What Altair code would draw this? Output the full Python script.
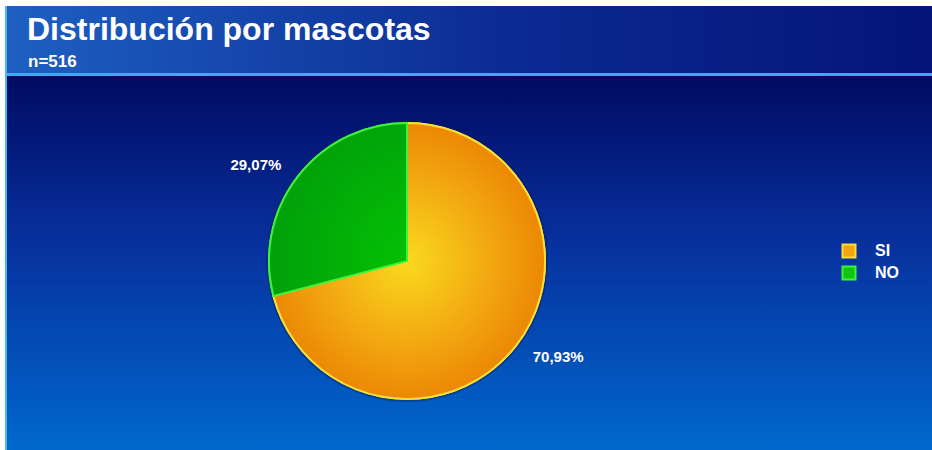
import altair as alt
import pandas as pd

# ---- data ----
categories = ["SI", "NO"]
percentages = [70.93, 29.07]
label_texts = ["70,93%", "29,07%"]
title_text = "Distribución por mascotas"
subtitle_text = "n=516"

df = pd.DataFrame({
    "cat": categories,
    "pct": percentages,
    "label": label_texts,
    "order": list(range(len(categories))),
})
one = pd.DataFrame({"k": [0]})

W, H = 932, 450
CX, CY, R = 407, 261, 138
FONT = "Liberation Sans"

header_grad = {
    "gradient": "linear", "x1": 0, "y1": 0, "x2": 1, "y2": 0,
    "stops": [
        {"offset": 0, "color": "#1e60c2"},
        {"offset": 0.55, "color": "#0b2a92"},
        {"offset": 1, "color": "#041478"},
    ],
}
body_grad = {
    "gradient": "linear", "x1": 0, "y1": 0, "x2": 0, "y2": 1,
    "stops": [
        {"offset": 0, "color": "#010a62"},
        {"offset": 0.45, "color": "#07319e"},
        {"offset": 1, "color": "#0068cc"},
    ],
}
orange_grad = {
    "gradient": "radial", "x1": 0.49, "y1": 0.5, "r1": 0,
    "x2": 0.49, "y2": 0.5, "r2": 0.55,
    "stops": [
        {"offset": 0, "color": "#f9da1e"},
        {"offset": 0.5, "color": "#f3ac12"},
        {"offset": 1, "color": "#ea8002"},
    ],
}
green_grad = {
    "gradient": "radial", "x1": 1, "y1": 0.79, "r1": 0,
    "x2": 1, "y2": 0.79, "r2": 1.0,
    "stops": [
        {"offset": 0, "color": "#04c404"},
        {"offset": 1, "color": "#009c0a"},
    ],
}

# ---- background decoration ----
bg_header = alt.Chart(one).mark_rect(fill=header_grad).encode(
    x=alt.value(6), x2=alt.value(W), y=alt.value(6), y2=alt.value(73))
bg_line = alt.Chart(one).mark_rect(fill="#3ea8f4").encode(
    x=alt.value(6), x2=alt.value(W), y=alt.value(73), y2=alt.value(76))
bg_body = alt.Chart(one).mark_rect(fill=body_grad).encode(
    x=alt.value(6), x2=alt.value(W), y=alt.value(76), y2=alt.value(H))
bg_left = alt.Chart(one).mark_rect(fill="#48b8f4").encode(
    x=alt.value(5), x2=alt.value(7), y=alt.value(6), y2=alt.value(H))

title = alt.Chart(one).mark_text(
    text=title_text, font=FONT, fontSize=32, fontWeight="bold", color="white",
    align="left", baseline="alphabetic").encode(x=alt.value(27), y=alt.value(40))
subtitle = alt.Chart(one).mark_text(
    text=subtitle_text, font=FONT, fontSize=17, fontWeight="bold", color="white",
    align="left", baseline="alphabetic").encode(x=alt.value(28), y=alt.value(67))

# ---- pie ----
base = alt.Chart(df).encode(
    theta=alt.Theta("pct:Q", stack=True),
    order=alt.Order("order:Q"),
    x=alt.value(CX), y=alt.value(CY),
)

legend_cfg = dict(
    title=None, orient="none", legendX=841, legendY=243,
    symbolType="square", symbolSize=169, symbolStrokeWidth=2,
    labelFont=FONT, labelFontSize=16, labelFontWeight="bold", labelColor="white",
    labelOffset=18, rowPadding=0, padding=0,
)

pie_legend = base.mark_arc(radius=R, strokeWidth=2).encode(
    color=alt.Color("cat:N", sort=categories,
                    scale=alt.Scale(domain=categories, range=["#f4a412", "#10c410"]),
                    legend=alt.Legend(**legend_cfg)),
    stroke=alt.Stroke("cat:N", sort=categories,
                      scale=alt.Scale(domain=categories, range=["#f8de34", "#3cf23c"]),
                      legend=alt.Legend(**legend_cfg)),
)

pie_shadow = base.mark_arc(radius=R + 3, fill="#001a55", opacity=0.35)

pie = base.mark_arc(radius=R, strokeWidth=2).encode(
    fill=alt.condition("datum.cat == 'SI'", alt.value(orange_grad), alt.value(green_grad)),
    stroke=alt.condition("datum.cat == 'SI'", alt.value("#f8de34"), alt.value("#3cf23c")),
)

labels = base.mark_text(
    radius=179, thetaOffset=-0.092, font=FONT, fontSize=15, fontWeight="bold",
    color="white", align="center", baseline="middle",
).encode(text="label:N")

chart = alt.layer(
    bg_header, bg_line, bg_body, bg_left, title, subtitle,
    pie_shadow, pie_legend, pie, labels,
).properties(
    width=W, height=H, padding=0,
    autosize=alt.AutoSizeParams(type="none"),
    background="white",
).configure_view(stroke=None)

chart.save("out.html", embed_options={"renderer": "svg", "actions": False})
